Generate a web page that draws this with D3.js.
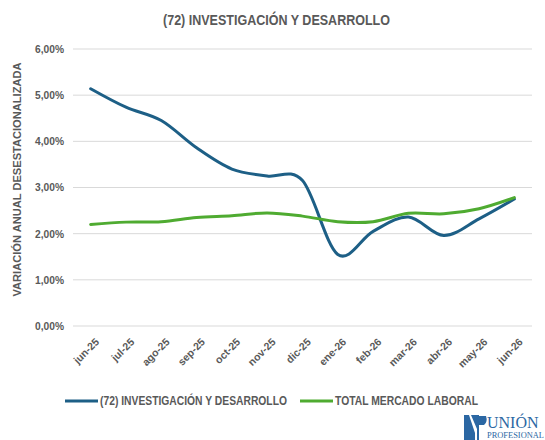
<!DOCTYPE html>
<html>
<head>
<meta charset="utf-8">
<script src="https://cdn.jsdelivr.net/npm/d3@7"></script>
<style>
  body { margin: 0; background: #fff; }
  svg text { font-family: "Liberation Sans Narrow", "Arial Narrow", "Liberation Sans", sans-serif; font-weight: bold; fill: #595959; }
</style>
</head>
<body>
<div id="chart"></div>
<script>
// Data
const months = ["jun-25", "jul-25", "ago-25", "sep-25", "oct-25", "nov-25", "dic-25",
                "ene-26", "feb-26", "mar-26", "abr-26", "may-26", "jun-26"];
const investigacion = [5.14, 4.74, 4.45, 3.86, 3.40, 3.25, 3.15, 1.55, 2.05, 2.36, 1.96, 2.32, 2.75];
const totalMercado = [2.20, 2.25, 2.26, 2.35, 2.39, 2.45, 2.38, 2.26, 2.26, 2.44, 2.43, 2.54, 2.78];
const yTicks = [0, 1, 2, 3, 4, 5, 6];
const seriesNames = ["(72) INVESTIGACIÓN Y DESARROLLO", "TOTAL MERCADO LABORAL"];
const seriesColors = ["#1d5f86", "#4fab31"];

const W = 545, H = 440;
const margin = { top: 49, right: 13, bottom: 114, left: 73 };
const width = W - margin.left - margin.right;
const height = H - margin.top - margin.bottom;

const svg = d3.select("#chart").append("svg")
    .attr("width", W)
    .attr("height", H);

// Title (condensed to mimic a narrow face)
svg.append("text")
    .attr("x", 163)
    .attr("y", 25)
    .attr("textLength", 227)
    .attr("lengthAdjust", "spacingAndGlyphs")
    .style("font-size", "15px")
    .text("(72) INVESTIGACIÓN Y DESARROLLO");

const g = svg.append("g").attr("transform", `translate(${margin.left},${margin.top})`);

const x = d3.scalePoint()
    .domain(months)
    .range([0, width])
    .padding(0.5);

const y = d3.scaleLinear()
    .domain([0, 6])
    .range([height, 0]);

// Gridlines
g.selectAll(".grid")
    .data(yTicks)
    .join("line")
    .attr("x1", 0)
    .attr("x2", width)
    .attr("y1", d => y(d))
    .attr("y2", d => y(d))
    .attr("stroke", "#d9d9d9")
    .attr("stroke-width", 1);

// Y axis
const yAxis = g.append("g")
    .call(d3.axisLeft(y).tickValues(yTicks).tickSize(0).tickPadding(9)
        .tickFormat(d => d.toFixed(2).replace(".", ",") + "%"));
yAxis.select(".domain").remove();
yAxis.selectAll("text")
    .style("font-size", "10.5px")
    .style("font-family", null)
    .attr("textLength", 29)
    .attr("lengthAdjust", "spacingAndGlyphs");

// X axis
const xAxis = g.append("g")
    .attr("transform", `translate(0,${height})`)
    .call(d3.axisBottom(x).tickSize(0).tickPadding(0));
xAxis.select(".domain").remove();
xAxis.selectAll("text")
    .style("font-size", "10.5px")
    .style("font-family", null)
    .attr("text-anchor", "end")
    .attr("dy", "0.35em")
    .attr("transform", "translate(6,14) rotate(-45)");

// Y axis label
svg.append("text")
    .attr("transform", `translate(21,${margin.top + height / 2 - 8}) rotate(-90)`)
    .attr("text-anchor", "middle")
    .attr("textLength", 234)
    .attr("lengthAdjust", "spacingAndGlyphs")
    .style("font-size", "11.5px")
    .text("VARIACIÓN ANUAL DESESTACIONALIZADA");

// Lines
const line = d3.line()
    .x((d, i) => x(months[i]))
    .y(d => y(d))
    .curve(d3.curveCardinal.tension(0));

[investigacion, totalMercado].forEach((s, i) => {
    g.append("path")
        .datum(s)
        .attr("fill", "none")
        .attr("stroke", seriesColors[i])
        .attr("stroke-width", 3)
        .attr("stroke-linecap", "round")
        .attr("d", line);
});

// Legend
const legend = svg.append("g").attr("transform", "translate(65,401)");
const legendX = [0, 235];
const legendLen = [187, 143];
seriesNames.forEach((name, i) => {
    const lg = legend.append("g").attr("transform", `translate(${legendX[i]},0)`);
    lg.append("line")
        .attr("x1", 0).attr("x2", 33)
        .attr("stroke", seriesColors[i])
        .attr("stroke-width", 3);
    lg.append("text")
        .attr("x", 35)
        .attr("dy", "0.35em")
        .attr("textLength", legendLen[i])
        .attr("lengthAdjust", "spacingAndGlyphs")
        .style("font-size", "12px")
        .text(name);
});

// Logo
const logo = svg.append("g").attr("transform", "translate(464,413)");
logo.append("path")
    .attr("d", "M0,2 L5,2 L11,20 L11,27 L0,27 Z")
    .attr("fill", "#2b67a3");
logo.append("path")
    .attr("d", "M7,2 L15,2 L15,27 L13,27 L13,16 Z")
    .attr("fill", "#2b67a3");
logo.append("path")
    .attr("d", "M15,3 L22,3 Q24,9 20,12 L15,12 Z")
    .attr("fill", "#2b67a3");
logo.append("text")
    .attr("x", 23)
    .attr("y", 15)
    .style("font-family", "'Liberation Serif', 'DejaVu Serif', serif")
    .style("font-weight", "normal")
    .style("font-size", "16px")
    .style("fill", "#2b67a3")
    .text("UNIÓN");
logo.append("text")
    .attr("x", 23)
    .attr("y", 25)
    .attr("textLength", 57)
    .attr("lengthAdjust", "spacingAndGlyphs")
    .style("font-family", "'Liberation Serif', 'DejaVu Serif', serif")
    .style("font-weight", "normal")
    .style("font-size", "7.5px")
    .style("fill", "#2b67a3")
    .text("PROFESIONAL");
</script>
</body>
</html>
